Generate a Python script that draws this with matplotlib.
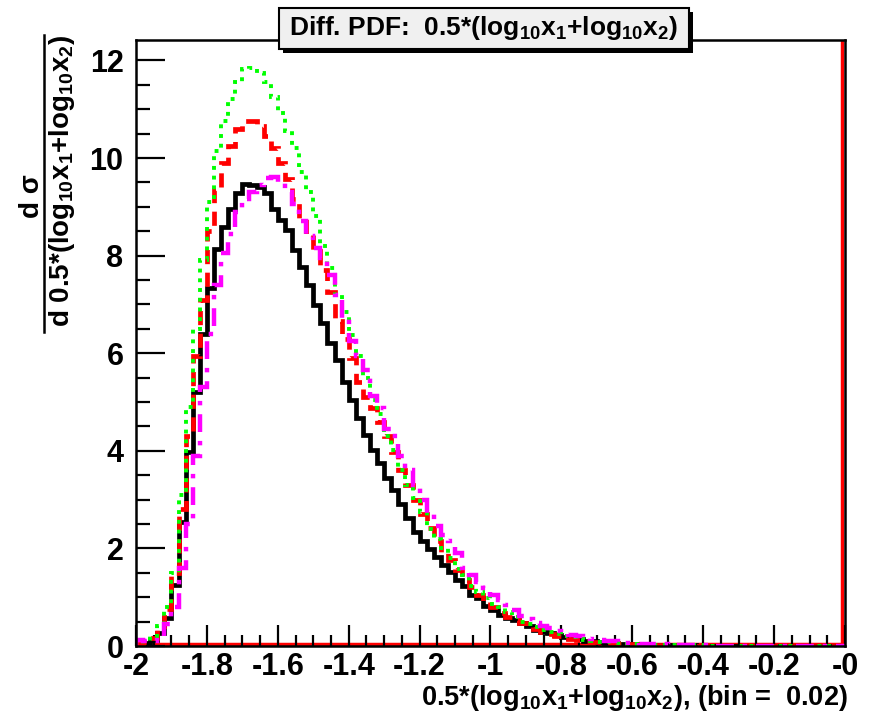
import numpy as np
import matplotlib
matplotlib.use("Agg")
import matplotlib.pyplot as plt
from matplotlib import font_manager
from matplotlib.patches import Rectangle
from matplotlib.lines import Line2D

# ---------------- data (bin contents, 100 bins of 0.02 from -2 to 0) ----------------
x_min, x_max, n_bins = -2.0, 0.0, 100

black_vals = [
    0.03, 0.06, 0.12, 0.27, 0.57, 1.25, 2.55, 3.98, 5.20, 6.40,
    7.33, 8.13, 8.59, 8.95, 9.29, 9.47, 9.45, 9.41, 9.29, 8.95,
    8.73, 8.52, 8.11, 7.77, 7.40, 6.99, 6.61, 6.20, 5.86, 5.40,
    5.04, 4.67, 4.32, 4.02, 3.74, 3.44, 3.20, 2.92, 2.62, 2.34,
    2.15, 1.98, 1.83, 1.66, 1.52, 1.35, 1.22, 1.05, 0.98, 0.81,
    0.74, 0.64, 0.57, 0.53, 0.47, 0.40, 0.33, 0.29, 0.26, 0.23,
    0.19, 0.16, 0.14, 0.11, 0.10, 0.08, 0.07, 0.06, 0.05, 0.045,
    0.04, 0.035, 0.03, 0.025, 0.02, 0.018, 0.015, 0.013, 0.011, 0.010,
    0.009, 0.008, 0.007, 0.006, 0.005, 0.005, 0.004, 0.004, 0.003, 0.003,
    0.003, 0.002, 0.002, 0.002, 0.002, 0.001, 0.001, 0.001, 0.001, 0.001,
]
red_vals = [
    0.04, 0.08, 0.16, 0.35, 0.75, 1.50, 2.80, 4.30, 5.95, 7.10,
    8.50, 9.35, 9.90, 10.25, 10.60, 10.76, 10.76, 10.65, 10.45, 10.20,
    9.90, 9.56, 9.15, 8.76, 8.44, 8.10, 7.70, 7.25, 6.65, 6.30,
    5.90, 5.42, 5.11, 4.87, 4.60, 4.30, 3.98, 3.60, 3.30, 3.00,
    2.70, 2.42, 2.16, 1.93, 1.76, 1.56, 1.35, 1.20, 1.05, 0.92,
    0.80, 0.68, 0.60, 0.53, 0.47, 0.40, 0.34, 0.29, 0.25, 0.21,
    0.18, 0.15, 0.13, 0.11, 0.09, 0.08, 0.07, 0.06, 0.05, 0.045,
    0.04, 0.035, 0.03, 0.026, 0.022, 0.019, 0.016, 0.014, 0.012, 0.010,
    0.009, 0.008, 0.007, 0.006, 0.006, 0.005, 0.004, 0.004, 0.003, 0.003,
    0.003, 0.002, 0.002, 0.002, 0.002, 0.001, 0.001, 0.001, 0.001, 0.001,
]
green_vals = [
    0.05, 0.10, 0.20, 0.40, 0.80, 1.50, 3.10, 4.90, 6.50, 7.90,
    9.10, 10.15, 10.75, 11.20, 11.55, 11.82, 11.85, 11.75, 11.55, 11.25,
    10.93, 10.55, 10.20, 9.72, 9.30, 8.81, 8.20, 7.74, 7.20, 6.84,
    6.37, 5.95, 5.50, 5.05, 4.75, 4.30, 4.02, 3.60, 3.30, 3.03,
    2.75, 2.40, 2.20, 2.00, 1.80, 1.58, 1.45, 1.22, 1.10, 0.98,
    0.87, 0.80, 0.70, 0.60, 0.50, 0.45, 0.38, 0.33, 0.28, 0.24,
    0.20, 0.18, 0.15, 0.12, 0.10, 0.09, 0.08, 0.07, 0.06, 0.05,
    0.045, 0.04, 0.034, 0.029, 0.024, 0.020, 0.017, 0.015, 0.013, 0.011,
    0.010, 0.009, 0.008, 0.007, 0.006, 0.005, 0.005, 0.004, 0.004, 0.003,
    0.003, 0.003, 0.002, 0.002, 0.002, 0.002, 0.001, 0.001, 0.001, 0.001,
]
magenta_vals = [
    0.12, 0.10, 0.10, 0.20, 0.45, 0.80, 1.60, 2.50, 3.90, 5.30,
    6.40, 7.40, 8.05, 8.45, 8.90, 9.15, 9.30, 9.45, 9.60, 9.62,
    9.48, 9.30, 9.05, 8.70, 8.40, 8.15, 7.95, 7.60, 7.20, 6.70,
    6.25, 5.95, 5.66, 5.12, 4.88, 4.45, 4.30, 3.90, 3.60, 3.30,
    3.00, 2.70, 2.45, 2.28, 2.15, 1.90, 1.60, 1.45, 1.32, 1.18,
    1.05, 0.95, 0.84, 0.74, 0.62, 0.55, 0.48, 0.42, 0.36, 0.30,
    0.26, 0.22, 0.20, 0.17, 0.14, 0.12, 0.11, 0.10, 0.08, 0.07,
    0.06, 0.05, 0.045, 0.038, 0.032, 0.027, 0.023, 0.019, 0.016, 0.014,
    0.012, 0.010, 0.009, 0.008, 0.007, 0.006, 0.005, 0.005, 0.004, 0.004,
    0.003, 0.003, 0.002, 0.002, 0.002, 0.002, 0.001, 0.001, 0.001, 0.001,
]

x_ticks = [-2, -1.8, -1.6, -1.4, -1.2, -1, -0.8, -0.6, -0.4, -0.2, 0]
x_tick_labels = ["-2", "-1.8", "-1.6", "-1.4", "-1.2", "-1", "-0.8", "-0.6", "-0.4", "-0.2", "-0"]
y_ticks = [0, 2, 4, 6, 8, 10, 12]
y_tick_labels = ["0", "2", "4", "6", "8", "10", "12"]

title_text = r"Diff. PDF:  0.5*(log$_{10}$x$_{1}$+log$_{10}$x$_{2}$)"
xlabel_text = r"0.5*(log$_{10}$x$_{1}$+log$_{10}$x$_{2}$), (bin =  0.02)"
ylabel_num = "d σ"
ylabel_den = r"d 0.5*(log$_{10}$x$_{1}$+log$_{10}$x$_{2}$)"

# ---------------- fonts ----------------
names = {f.name for f in font_manager.fontManager.ttflist}
if "Liberation Sans Narrow" in names:
    fam = "Liberation Sans Narrow"
    fs_tick, fs_lab, fs_xlab, fs_title = 25, 24, 23, 23
else:
    fam = "Liberation Sans"
    fs_tick, fs_lab, fs_xlab, fs_title = 22, 20, 19.5, 19
plt.rcParams["font.family"] = [fam, "DejaVu Sans"]
plt.rcParams["font.weight"] = "bold"
plt.rcParams["mathtext.fontset"] = "custom"
plt.rcParams["mathtext.rm"] = fam + ":bold"
plt.rcParams["mathtext.it"] = fam + ":bold"
plt.rcParams["mathtext.bf"] = fam + ":bold"
plt.rcParams["mathtext.default"] = "rm"

W, H = 871, 715
fig = plt.figure(figsize=(W / 100, H / 100), dpi=100)
ax = fig.add_axes([136 / W, 1 - 646 / H, (845 - 136) / W, (646 - 40) / H])

edges = np.linspace(x_min, x_max, n_bins + 1)
ymax = (646 - 40) / 48.8

# red frame lines (y = 0 and x = 0), just inside the black frame
ax.axhline(0.05, color="red", lw=2.5, zorder=1)
ax.axvline(-0.008, color="red", lw=2.5, zorder=1)

ax.stairs(black_vals, edges, color="black", lw=3.4, zorder=3)
ax.stairs(red_vals, edges, color="#ff0000", lw=3.4, linestyle=(0, (3.0, 1.8)), zorder=4)
ax.stairs(green_vals, edges, color="#00ff00", lw=2.8, linestyle=(0, (1.0, 1.5)), zorder=5)
ax.stairs(magenta_vals, edges, color="#ff00ff", lw=3.2, linestyle=(0, (4.0, 2.0, 1.0, 2.0)), zorder=6)

ax.set_xlim(x_min, x_max)
ax.set_ylim(0, ymax)

ax.set_xticks(x_ticks)
ax.set_xticklabels(x_tick_labels)
ax.set_yticks(y_ticks)
ax.set_yticklabels(y_tick_labels)
ax.set_xticks(np.arange(-2, 0.0001, 0.05), minor=True)
ax.set_yticks(np.arange(0, 12.01, 0.5), minor=True)
ax.tick_params(axis="both", which="both", direction="in", top=False, right=False,
               labelsize=fs_tick, width=1.6, colors="black")
ax.tick_params(axis="x", which="major", length=15, pad=4)
ax.tick_params(axis="x", which="minor", length=8)
ax.tick_params(axis="y", which="major", length=21, pad=9)
ax.tick_params(axis="y", which="minor", length=10)
for lab in ax.get_xticklabels() + ax.get_yticklabels():
    lab.set_fontweight("bold")
for sp in ax.spines.values():
    sp.set_linewidth(1.8)
    sp.set_zorder(7)

# x label
fig.text(848 / W, 1 - 713 / H, xlabel_text, ha="right", va="bottom",
         fontsize=fs_xlab, fontweight="bold")

# y label as a fraction
fig.text(32 / W, 1 - 196 / H, ylabel_num, rotation=90, ha="center", va="center",
         fontsize=fs_lab, fontweight="bold")
fig.add_artist(Line2D([44 / W, 44 / W], [1 - 332 / H, 1 - 35 / H], color="black", lw=1.8,
                      transform=fig.transFigure))
fig.text(62 / W, 1 - 181 / H, ylabel_den, rotation=90, ha="center", va="center",
         fontsize=fs_lab, fontweight="bold")

# title box with shadow
bx0, by0, bx1, by1 = 279, 8, 689, 49
sh = 4
fig.add_artist(Rectangle(((bx0 + sh) / W, 1 - (by1 + sh) / H), (bx1 - bx0) / W, (by1 - by0) / H,
                         transform=fig.transFigure, facecolor="black", edgecolor="black", lw=0, zorder=8))
fig.add_artist(Rectangle((bx0 / W, 1 - by1 / H), (bx1 - bx0) / W, (by1 - by0) / H,
                         transform=fig.transFigure, facecolor="#f0f0f0", edgecolor="black", lw=1.5, zorder=9))
fig.text((bx0 + bx1) / 2 / W, 1 - 28 / H, title_text, ha="center", va="center",
         fontsize=fs_title, fontweight="bold", zorder=10)

fig.savefig("out.png", dpi=100, facecolor="white")
